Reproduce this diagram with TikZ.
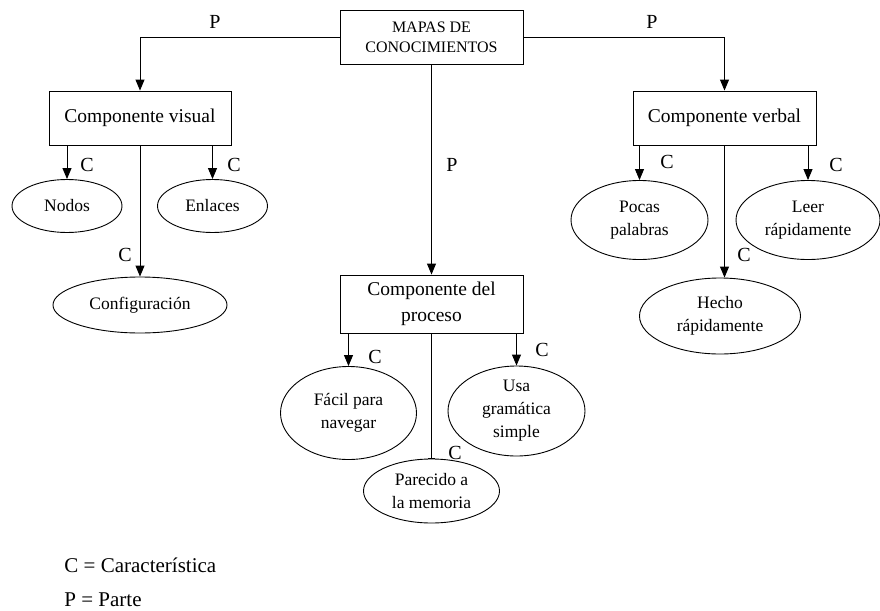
\documentclass[tikz,border=0pt]{standalone}
\usepackage{fontspec}
\setmainfont{Liberation Serif}
\usetikzlibrary{arrows.meta,shapes.geometric}
\begin{document}
\begin{tikzpicture}[x=1pt,y=-1pt,
  line width=0.9pt,
  box/.style={draw, rectangle, inner sep=0pt, align=center, font=\fontsize{19.5}{26}\selectfont},
  oval/.style={draw, ellipse, inner sep=0pt, align=center, font=\fontsize{17.5}{23}\selectfont},
  lbl/.style={inner sep=0pt, font=\fontsize{20}{20}\selectfont},
  arr/.style={-{Triangle[length=11pt,width=9pt]}}
]
\useasboundingbox (0,0) rectangle (880,610);
% boxes
\node[box, minimum width=183pt, minimum height=54pt, font=\fontsize{16}{20}\selectfont] (mapas) at (431.5,37) {MAPAS DE\\CONOCIMIENTOS};
\node[box, minimum width=182pt, minimum height=54pt] (cv) at (140,118) {Componente visual};
\node[box, minimum width=183pt, minimum height=54pt] (cverb) at (724.5,118) {Componente verbal};
\node[box, minimum width=183pt, minimum height=58pt] (cp) at (431.5,304) {Componente del\\proceso};
% ellipses
\node[oval, minimum width=110pt, minimum height=53pt] (nodos) at (67,206) {Nodos};
\node[oval, minimum width=110pt, minimum height=53pt] (enl) at (212.5,206) {Enlaces};
\node[oval, minimum width=174pt, minimum height=56pt] (conf) at (140,305) {Configuración};
\node[oval, minimum width=137pt, minimum height=79pt] (pocas) at (639.5,220) {Pocas\\palabras};
\node[oval, minimum width=144pt, minimum height=79pt] (leer) at (808,220) {Leer\\rápidamente};
\node[oval, minimum width=161pt, minimum height=76pt] (hecho) at (720,316) {Hecho\\rápidamente};
\node[oval, minimum width=136pt, minimum height=93pt] (facil) at (348.5,413) {Fácil para\\navegar};
\node[oval, minimum width=137pt, minimum height=90pt] (usa) at (516.5,411) {Usa\\gramática\\simple};
\node[oval, minimum width=136pt, minimum height=64pt] (par) at (431.5,491) {Parecido a\\la memoria};
% connectors
\draw[arr] (mapas.west) -| (cv.north);
\draw[arr] (mapas.east) -| (cverb.north);
\draw[arr] (mapas.south) -- (cp.north);
\draw[arr] (cv.south -| nodos.north) -- (nodos.north);
\draw[arr] (cv.south -| enl.north) -- (enl.north);
\draw[arr] (cv.south) -- (conf.north);
\draw[arr] (cverb.south -| pocas.north) -- (pocas.north);
\draw[arr] (cverb.south -| leer.north) -- (leer.north);
\draw[arr] (cverb.south) -- (cverb.south |- hecho.north);
\draw[arr] (cp.south -| facil.north) -- (facil.north);
\draw[arr] (cp.south -| usa.north) -- (usa.north);
\draw[-{Bar[width=7pt]}] (cp.south) -- (par.north);
% labels
\node[lbl] (pl) at (215,22) {P};
\node[lbl] (pr) at (652,22) {P};
\node[lbl] (pm) at (452,165) {P};
\node[lbl] (c1) at (87,165) {C};
\node[lbl] (c2) at (234,165) {C};
\node[lbl] (c3) at (125,255) {C};
\node[lbl] (c4) at (667,162) {C};
\node[lbl] (c5) at (836,165) {C};
\node[lbl] (c6) at (744,255) {C};
\node[lbl] (c7) at (375,357) {C};
\node[lbl] (c8) at (542,350) {C};
\node[lbl] (c9) at (455,453) {C};
% legend
\node[lbl, anchor=west, font=\fontsize{21}{22}\selectfont] (leg1) at (64,565) {C = Característica};
\node[lbl, anchor=west, font=\fontsize{21}{22}\selectfont] (leg2) at (64,600) {P = Parte};
\end{tikzpicture}
\end{document}
